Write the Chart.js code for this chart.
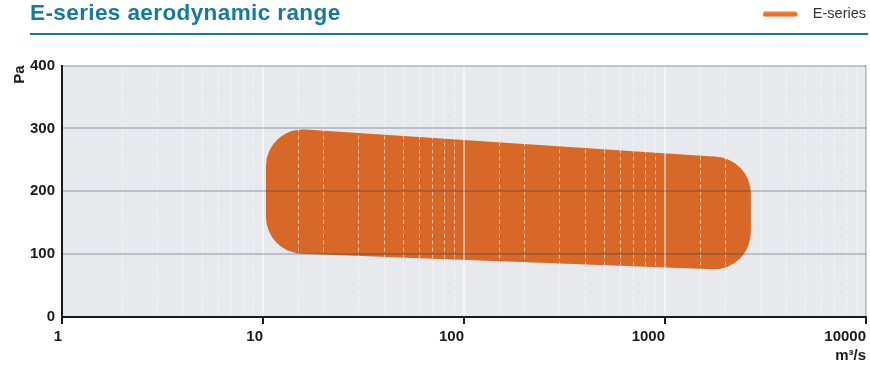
<!DOCTYPE html>
<html><head><meta charset="utf-8">
<script src="https://cdn.jsdelivr.net/npm/chart.js@4.4.1/dist/chart.umd.min.js"></script>
<style>
html,body{margin:0;padding:0;background:#fff;overflow:hidden;}
#wrap{position:relative;width:870px;height:365px;}
#title{position:absolute;left:30px;top:2px;font:bold 22.5px 'Liberation Sans',Arial,sans-serif;letter-spacing:0.4px;line-height:22px;color:#1579a0;white-space:nowrap;}
#rule{position:absolute;left:30px;top:33px;width:838px;height:2px;background:#1579a0;}
canvas{position:absolute;left:0;top:0;}
</style></head><body>
<div id="wrap"><canvas id="c" width="870" height="365"></canvas><div id="title">E-series aerodynamic range</div><div id="rule"></div></div>
<script>
// ---- data ----
const seriesName = 'E-series';
// corner points of the operating range (inner polygon; corners are rounded when drawn)
const rangeFlow = [15.8, 1750, 1750, 15.8, 15.8];
const rangePressure = [239.5, 196.3, 134.6, 159.4, 239.5];
const xTickValues = [1, 10, 100, 1000, 10000];
const xTickLabels = ['1', '10', '100', '1000', '10000'];
const yTickValues = [0, 100, 200, 300, 400];
const yTickLabels = ['0', '100', '200', '300', '400'];
const xTitle = 'm³/s';
const yTitle = 'Pa';

// ---- styles ----
const FONT = "'Liberation Sans', Arial, sans-serif";
const SHAPE = '#d86828';
const LEGEND_ORANGE = '#ee7027';
const HGRID = 'rgba(20,40,80,0.22)';
const AXIS = '#1a1a1a';

function isMajor(v) { const l = Math.log10(v); return Math.abs(l - Math.round(l)) < 1e-9; }

const mk = document.createElement('canvas');
mk.width = 43; mk.height = 6;
(function(){ const c = mk.getContext('2d'); c.strokeStyle = LEGEND_ORANGE; c.lineWidth = 5; c.lineCap = 'round';
  c.beginPath(); c.moveTo(2.5, 3); c.lineTo(32.5, 3); c.stroke(); })();

const areaBg = {
  id: 'areaBg',
  beforeDraw(chart) {
    const {ctx, chartArea: a} = chart;
    ctx.save(); ctx.fillStyle = '#e8e9ec';
    ctx.fillRect(a.left, a.top, a.right - a.left, a.bottom - a.top);
    ctx.restore();
  }
};
const legendSpace = {
  id: 'legendSpace',
  beforeInit(chart) {
    const lg = chart.legend; const orig = lg.fit;
    lg.fit = function () { orig.call(this); this.height += 34; };
  },
  afterLayout(chart) { chart.legend.left += 6; chart.legend.right += 6; }
};

new Chart(document.getElementById('c'), {
  type: 'scatter',
  data: {
    datasets: [{
      label: seriesName,
      data: rangeFlow.map((x, i) => ({x: x, y: rangePressure[i]})),
      showLine: true,
      fill: 'shape',
      backgroundColor: SHAPE,
      borderColor: SHAPE,
      borderWidth: 74,
      borderJoinStyle: 'round',
      borderCapStyle: 'round',
      pointRadius: 0,
      pointHoverRadius: 0,
      tension: 0,
      clip: false
    }]
  },
  options: {
    responsive: false,
    animation: false,
    devicePixelRatio: 1,
    events: [],
    layout: {padding: {top: 0, left: 0, right: 3, bottom: 0}},
    plugins: {
      tooltip: {enabled: false},
      legend: {
        position: 'top',
        align: 'end',
        labels: {
          usePointStyle: true,
          pointStyleWidth: 43,
          boxHeight: 6,
          padding: 7,
          color: '#333',
          font: {family: FONT, size: 14.5},
          generateLabels: () => [{text: seriesName, pointStyle: mk, fillStyle: LEGEND_ORANGE,
            strokeStyle: LEGEND_ORANGE, lineWidth: 0, hidden: false, datasetIndex: 0, fontColor: '#333'}]
        }
      }
    },
    scales: {
      x: {
        type: 'logarithmic',
        min: 1, max: 10000,
        border: {display: true, color: AXIS, width: 2, z: 2,
          dash: ctx => (ctx.tick && !isMajor(ctx.tick.value)) ? [4, 3] : []},
        grid: {
          z: 1,
          color: ctx => {
            if (!ctx.tick) return 'rgba(0,0,0,0)';
            const v = ctx.tick.value;
            if (v === 1) return 'rgba(0,0,0,0)';
            if (v === 10000) return HGRID;
            return isMajor(v) ? 'rgba(255,255,255,0.5)' : 'rgba(255,255,255,0.55)';
          },
          lineWidth: ctx => (ctx.tick && isMajor(ctx.tick.value)) ? 2 : 1,
          tickColor: ctx => (ctx.tick && isMajor(ctx.tick.value)) ? AXIS : 'rgba(0,0,0,0)',
          tickLength: 7,
          tickWidth: 2,
          drawTicks: true
        },
        ticks: {
          z: 2,
          autoSkip: false, maxRotation: 0, minRotation: 0, align: 'end', padding: 4,
          color: AXIS, font: {family: FONT, size: 15, weight: 'bold'},
          callback: v => { const i = xTickValues.indexOf(v); return i >= 0 ? xTickLabels[i] : ''; }
        },
        title: {display: true, text: xTitle, align: 'end', color: AXIS,
          font: {family: FONT, size: 15, weight: 'bold'}, padding: {top: 0, bottom: 0}},
        afterFit: s => { s.height = 48; }
      },
      y: {
        min: 0, max: 400,
        border: {display: true, color: AXIS, width: 2, z: 2},
        grid: {
          z: 1,
          color: ctx => (ctx.tick && ctx.tick.value === 0) ? 'rgba(0,0,0,0)' : HGRID,
          lineWidth: 2,
          drawTicks: false
        },
        ticks: {
          z: 2,
          stepSize: 100, padding: 7, color: AXIS, font: {family: FONT, size: 15, weight: 'bold'},
          callback: v => { const i = yTickValues.indexOf(v); return i >= 0 ? yTickLabels[i] : ''; }
        },
        title: {display: true, text: yTitle, align: 'end', color: AXIS,
          font: {family: FONT, size: 15, weight: 'bold'}, padding: {top: 11, bottom: 0}},
        afterFit: s => { s.width = 62; }
      }
    }
  },
  plugins: [areaBg, legendSpace]
});
</script>
</body></html>
